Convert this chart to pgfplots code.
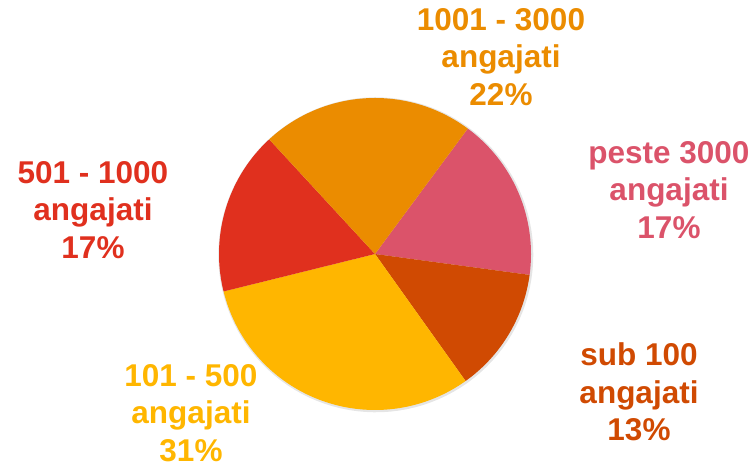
\documentclass[border=0pt]{standalone}
\usepackage{fontspec}
\setmainfont{Liberation Sans}
\usepackage{pgfplots}
\pgfplotsset{compat=1.18}

\definecolor{cRose}{HTML}{DB536A}
\definecolor{cOrange}{HTML}{D04A02}
\definecolor{cYellow}{HTML}{FFB600}
\definecolor{cRed}{HTML}{E0301E}
\definecolor{cTang}{HTML}{EB8C00}

% pie centre and radius in picture units (1 unit = 1bp)
\def\cx{375}\def\cy{216}\def\rr{156}
\def\startang{53.5}

% one wedge, clockwise from \startang; #1 = percent, #2 = colour
\newcommand\slice[2]{%
  \pgfmathsetmacro\endang{\startang-3.6*#1}%
  \edef\temp{\noexpand\addplot[fill=#2,draw=none,domain=\endang:\startang,samples=90]
    ({\cx+\rr*cos(x)},{\cy+\rr*sin(x)}) -- (\cx,\cy) -- cycle;}%
  \temp
  \global\let\startang\endang
}

\tikzset{lbl/.style={font=\fontsize{31.5bp}{37.5bp}\selectfont\bfseries,align=center,inner sep=0pt}}

\begin{document}
\begin{tikzpicture}
\begin{axis}[x=1bp,y=1bp,xmin=0,xmax=755,ymin=0,ymax=470,
  hide axis,clip=false]
\path (0,0) rectangle (755,470);
% faint shadow
\addplot[fill=black,fill opacity=0.10,draw=none,domain=0:360,samples=120]
  ({\cx+0.8+(\rr+1.5)*cos(x)},{\cy-0.8+(\rr+1.5)*sin(x)}) -- cycle;
\slice{17}{cRose}   % peste 3000
\slice{13}{cOrange} % sub 100
\slice{31}{cYellow} % 101 - 500
\slice{17}{cRed}    % 501 - 1000
\slice{22}{cTang}   % 1001 - 3000
\node[lbl,text=cTang]   at (501,413) {1001 - 3000\\angajati\\22\%};
\node[lbl,text=cRose]   at (669,280) {peste 3000\\angajati\\17\%};
\node[lbl,text=cOrange] at (639,78)  {sub 100\\angajati\\13\%};
\node[lbl,text=cYellow] at (191,57)  {101 - 500\\angajati\\31\%};
\node[lbl,text=cRed]    at (93,260)  {501 - 1000\\angajati\\17\%};
\end{axis}
\end{tikzpicture}
\end{document}
